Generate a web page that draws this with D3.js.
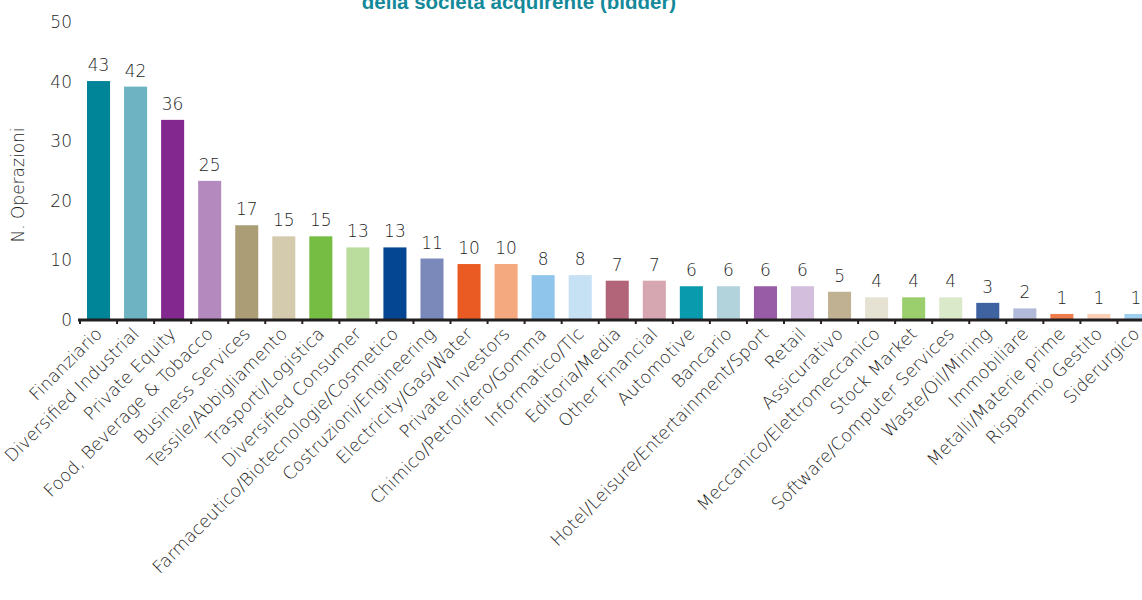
<!DOCTYPE html>
<html><head><meta charset="utf-8">
<script src="https://cdn.jsdelivr.net/npm/d3@7"></script>
<style>
body{margin:0;background:#fff;}
svg{display:block;}
text{font-family:"DejaVu Sans",sans-serif;font-weight:200;fill:#1e1e1e;}
</style></head>
<body>
<svg id="chart" width="1142" height="600"></svg>
<script>
const categories = ["Finanziario","Diversified Industrial","Private Equity","Food, Beverage & Tobacco","Business Services","Tessile/Abbigliamento","Trasporti/Logistica","Diversified Consumer","Farmaceutico/Biotecnologie/Cosmetico","Costruzioni/Engineering","Electricity/Gas/Water","Private Investors","Chimico/Petrolifero/Gomma","Informatico/Tlc","Editoria/Media","Other Financial","Automotive","Bancario","Hotel/Leisure/Entertainment/Sport","Retail","Assicurativo","Meccanico/Elettromeccanico","Stock Market","Software/Computer Services","Waste/Oil/Mining","Immobiliare","Metalli/Materie prime","Risparmio Gestito","Siderurgico"];
const values = [43,42,36,25,17,15,15,13,13,11,10,10,8,8,7,7,6,6,6,6,5,4,4,4,3,2,1,1,1];
const colors = ["#008497","#6db3c2","#83288f","#b389be","#ab9e77","#d4cbaf","#76bd44","#badc9c","#054693","#7b89ba","#e95b23","#f5a97f","#8fc5ea","#c6e0f4","#b26579","#d6a6b1","#0a9aae","#b2d3dc","#975ca5","#d4bedd","#c1b193","#e5e2d4","#9bce6d","#dbe9cb","#3f62a0","#b2bad9","#ef7d4b","#fcd0b6","#9ecfef"];
const yTicks = [0,10,20,30,40,50];
const title = "della società acquirente (bidder)";
const yTitle = "N. Operazioni";

const svg = d3.select("#chart");
const baseY = 319.5, topY = 22;
const x = d3.scaleBand().domain(categories).range([80, 1154.5]).paddingInner(0.378).paddingOuter(0.189);
// bars are drawn on a slightly compressed scale in the original
const yBar = d3.scaleLinear().domain([0, 53.65]).range([baseY, topY]);
const yAxis = d3.scaleLinear().domain([0, 50]).range([baseY, topY]);

svg.append("text").attr("x", 519).attr("y", 9).attr("text-anchor","middle")
  .style("font-family","'Liberation Sans',Arial,sans-serif").style("font-weight","bold")
  .style("font-size","20.5px").style("fill","#14899a").text(title);

svg.append("g").selectAll("text").data(yTicks).join("text")
  .attr("x", 72).attr("y", d => yAxis(d)).attr("dy","0.36em").attr("text-anchor","end")
  .style("font-size","17px").text(d => d);

svg.append("text").attr("transform","translate(24,185) rotate(-90)").attr("text-anchor","middle")
  .style("font-size","17px").text(yTitle);

svg.append("g").selectAll("rect").data(values).join("rect")
  .attr("x", (d,i) => x(categories[i])).attr("width", x.bandwidth())
  .attr("y", d => yBar(d)).attr("height", d => baseY - yBar(d))
  .attr("fill", (d,i) => colors[i]);

svg.append("g").selectAll("text").data(values).join("text")
  .attr("x", (d,i) => x(categories[i]) + x.bandwidth()/2).attr("y", d => yBar(d) - 10)
  .attr("text-anchor","middle").style("font-size","17px").text(d => d);

const step = x.step();
svg.append("line").attr("x1", 78).attr("x2", 1142).attr("y1", 320).attr("y2", 320)
  .attr("stroke","#231f20").attr("stroke-width",3);
svg.append("g").selectAll("line").data(d3.range(categories.length + 1)).join("line")
  .attr("x1", i => 80 + i*step).attr("x2", i => 80 + i*step)
  .attr("y1", 320).attr("y2", 324).attr("stroke","#231f20").attr("stroke-width",2);

svg.append("g").selectAll("text").data(categories).join("text")
  .attr("transform", d => `translate(${x(d) + x.bandwidth()/2 + 4.5},335) rotate(-45)`)
  .attr("text-anchor","end").style("font-size","17.5px").text(d => d);
</script>
</body></html>
